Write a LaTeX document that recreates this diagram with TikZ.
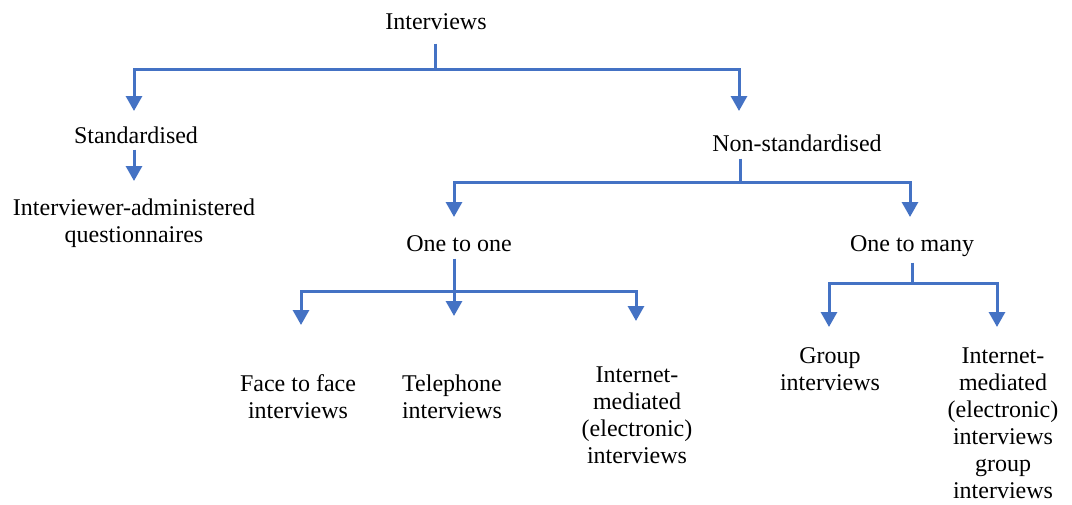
\documentclass[tikz,border=0pt]{standalone}
\usepackage{fontspec}
\setmainfont{Liberation Serif}
\usetikzlibrary{arrows.meta}
\definecolor{linkblue}{RGB}{68,114,196}
\begin{document}
\begin{tikzpicture}[x=0.5pt,y=-0.5pt,
  lbl/.style={inner sep=0pt,align=center,anchor=base,
    font=\fontsize{12}{13.5}\selectfont},
  link/.style={draw=linkblue,line width=1.5pt},
  arr/.style={link,-{Triangle[length=7.5pt,width=8pt]}}]
\useasboundingbox (0,0) rectangle (1072,504);

% labels (the base anchor of a multi-line label is its last line)
\node[lbl] (iv)   at (436,29)  {Interviews};
\node[lbl] (std)  at (136,143) {Standardised};
\node[lbl] (iaq)  at (134,242) {Interviewer-administered\\questionnaires};
\node[lbl] (nstd) at (797,151) {Non-standardised};
\node[lbl] (one)  at (459,251) {One to one};
\node[lbl] (many) at (912,251) {One to many};
\node[lbl] (ftf)  at (298,418) {Face to face\\interviews};
\node[lbl] (tel)  at (452,418) {Telephone\\interviews};
\node[lbl] (imi)  at (637,463) {Internet-\\mediated\\(electronic)\\interviews};
\node[lbl] (grp)  at (830,390) {Group\\interviews};
\node[lbl] (img)  at (1003,498) {Internet-\\mediated\\(electronic)\\interviews\\group\\interviews};

% branch points and arrow tips
\coordinate (b1) at (435,69);
\coordinate (t-std) at (134,111);
\coordinate (t-nstd) at (739,111);
\coordinate (t-iaq) at (134,181);
\coordinate (b2) at (740,182);
\coordinate (t-one) at (454,217);
\coordinate (t-many) at (910,217);
\coordinate (b3) at (454,291);
\coordinate (t-ftf) at (301,325);
\coordinate (t-tel) at (454,316);
\coordinate (t-imi) at (636,321);
\coordinate (b4) at (912,283);
\coordinate (t-grp) at (829,327);
\coordinate (t-img) at (997,327);

% Interviews
\draw[link] (iv.south -| b1) ++(0,14) -- (b1);
\draw[arr] (b1) -| (t-std);
\draw[arr] (b1) -| (t-nstd);
% Standardised
\draw[arr] (std.south -| t-iaq) ++(0,6) -- (t-iaq);
% Non-standardised
\draw[link] (nstd.south -| b2) ++(0,7) -- (b2);
\draw[arr] (b2) -| (t-one);
\draw[arr] (b2) -| (t-many);
% One to one
\draw[arr] (one.south -| b3) ++(0,7) -- (t-tel);
\draw[arr] (b3) -| (t-ftf);
\draw[arr] (b3) -| (t-imi);
% One to many
\draw[link] (many.south -| b4) ++(0,6) -- (b4);
\draw[arr] (b4) -| (t-grp);
\draw[arr] (b4) -| (t-img);
\end{tikzpicture}
\end{document}
